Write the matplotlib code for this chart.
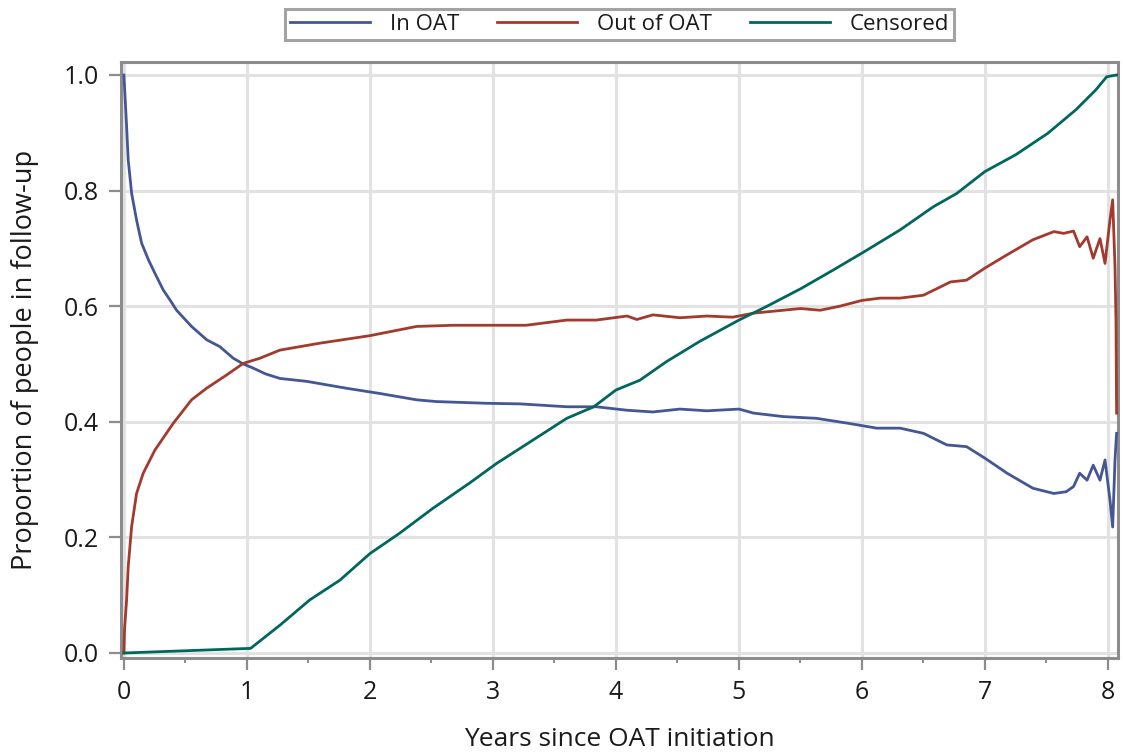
import matplotlib
matplotlib.use("Agg")
import matplotlib.pyplot as plt
from matplotlib.ticker import MultipleLocator, FormatStrFormatter

plt.rcParams['font.family'] = ['Open Sans', 'DejaVu Sans']

# ---- data ----
in_oat_x = [0, 0.01, 0.022, 0.035, 0.063, 0.103, 0.144, 0.20, 0.252, 0.32, 0.374, 0.428,
            0.55, 0.672, 0.78, 0.889, 0.97, 1.05, 1.15, 1.268, 1.485, 1.81, 2.08, 2.38,
            2.54, 2.95, 3.22, 3.6, 3.84, 4.09, 4.30, 4.52, 4.74, 5.0, 5.12, 5.36, 5.63,
            5.90, 6.12, 6.31, 6.50, 6.69, 6.85, 7.0, 7.18, 7.39, 7.56, 7.66, 7.72, 7.77,
            7.83, 7.88, 7.935, 7.976, 8.016, 8.038, 8.057, 8.07]
in_oat_y = [1.0, 0.96, 0.911, 0.853, 0.795, 0.749, 0.709, 0.68, 0.657, 0.628, 0.611, 0.593,
            0.565, 0.542, 0.53, 0.51, 0.50, 0.493, 0.483, 0.475, 0.47, 0.458, 0.449, 0.438,
            0.435, 0.432, 0.431, 0.426, 0.426, 0.42, 0.417, 0.422, 0.419, 0.422, 0.415, 0.409, 0.406,
            0.397, 0.389, 0.389, 0.38, 0.36, 0.357, 0.337, 0.311, 0.285, 0.276, 0.279, 0.288, 0.311,
            0.299, 0.325, 0.299, 0.334, 0.265, 0.218, 0.334, 0.38]

out_oat_x = [0, 0.005, 0.022, 0.035, 0.063, 0.103, 0.157, 0.252, 0.4, 0.55, 0.672, 0.835,
             0.97, 1.106, 1.268, 1.593, 2.0, 2.38, 2.68, 3.057, 3.27, 3.6, 3.84, 4.09, 4.17,
             4.30, 4.52, 4.74, 4.95, 5.12, 5.36, 5.50, 5.66, 5.82, 6.0, 6.15, 6.31, 6.50,
             6.72, 6.85, 7.0, 7.18, 7.39, 7.56, 7.64, 7.72, 7.77, 7.83, 7.88, 7.935, 7.976,
             8.016, 8.038, 8.057, 8.065, 8.07]
out_oat_y = [0, 0.04, 0.092, 0.149, 0.219, 0.276, 0.311, 0.351, 0.397, 0.438, 0.458, 0.481,
             0.501, 0.51, 0.524, 0.536, 0.549, 0.565, 0.567, 0.567, 0.567, 0.576, 0.576, 0.583, 0.577,
             0.585, 0.58, 0.583, 0.581, 0.588, 0.593, 0.596, 0.593, 0.600, 0.61, 0.614, 0.614, 0.619,
             0.642, 0.645, 0.666, 0.689, 0.715, 0.729, 0.726, 0.73, 0.703, 0.72, 0.683, 0.717, 0.674,
             0.749, 0.784, 0.668, 0.576, 0.415]

cens_x = [0, 1.03, 1.268, 1.512, 1.756, 2.0, 2.24, 2.51, 2.81, 3.03, 3.33, 3.6, 3.82, 4.0,
          4.195, 4.41, 4.68, 5.0, 5.22, 5.5, 5.77, 6.04, 6.31, 6.58, 6.77, 7.0, 7.25, 7.51,
          7.74, 7.90, 7.99, 8.07]
cens_y = [0, 0.008, 0.048, 0.092, 0.126, 0.172, 0.207, 0.25, 0.294, 0.328, 0.369, 0.406, 0.426, 0.455,
          0.472, 0.504, 0.539, 0.576, 0.599, 0.630, 0.663, 0.697, 0.732, 0.772, 0.795, 0.833, 0.862, 0.899,
          0.94, 0.974, 0.997, 1.0]

series_names = ["In OAT", "Out of OAT", "Censored"]
series_colors = ["#445694", "#A23A2E", "#01665E"]
x_ticks = [0, 1, 2, 3, 4, 5, 6, 7, 8]
y_ticks = [0.0, 0.2, 0.4, 0.6, 0.8, 1.0]

# ---- figure ----
fig = plt.figure(figsize=(11.23, 7.56), dpi=100)
ax = fig.add_axes([0.1077, 0.1296, 0.9955 - 0.1077, 0.918 - 0.1296])

for xs, ys, name, col in zip([in_oat_x, out_oat_x, cens_x], [in_oat_y, out_oat_y, cens_y],
                             series_names, series_colors):
    ax.plot(xs, ys, color=col, lw=2.0, label=name, zorder=3)

ax.set_xlim(-0.024, 8.081)
ax.set_ylim(-0.0087, 1.0225)
ax.set_xticks(x_ticks)
ax.set_yticks(y_ticks)
ax.xaxis.set_minor_locator(MultipleLocator(0.5))
ax.yaxis.set_major_formatter(FormatStrFormatter('%.1f'))

ax.grid(True, which='major', color='#E2E2E2', lw=2.2, zorder=0)
ax.set_axisbelow(True)

for s in ax.spines.values():
    s.set_color('#8C8C8C')
    s.set_linewidth(2.2)

ax.tick_params(axis='both', which='major', direction='out', length=8.6, width=1.6,
               color='#8C8C8C', labelsize=18, labelcolor='#1a1a1a', pad=7)
ax.tick_params(axis='x', which='minor', direction='out', length=3.8, width=1.4, color='#8C8C8C')

ax.set_xlabel("Years since OAT initiation", fontsize=19, color='#1a1a1a', labelpad=16)
ax.set_ylabel("Proportion of people in follow-up", fontsize=19.5, color='#1a1a1a', labelpad=18)

leg = ax.legend(loc='lower center', bbox_to_anchor=(0.5, 1.0), ncol=3, frameon=True,
                fontsize=16, handlelength=3.6, columnspacing=1.7, handletextpad=0.9,
                borderpad=0.22, fancybox=False, borderaxespad=1.0)
leg.get_frame().set_edgecolor('#8C8C8C')
leg.get_frame().set_linewidth(2.2)
for t in leg.get_texts():
    t.set_color('#1a1a1a')

fig.savefig("out.png", dpi=100)
